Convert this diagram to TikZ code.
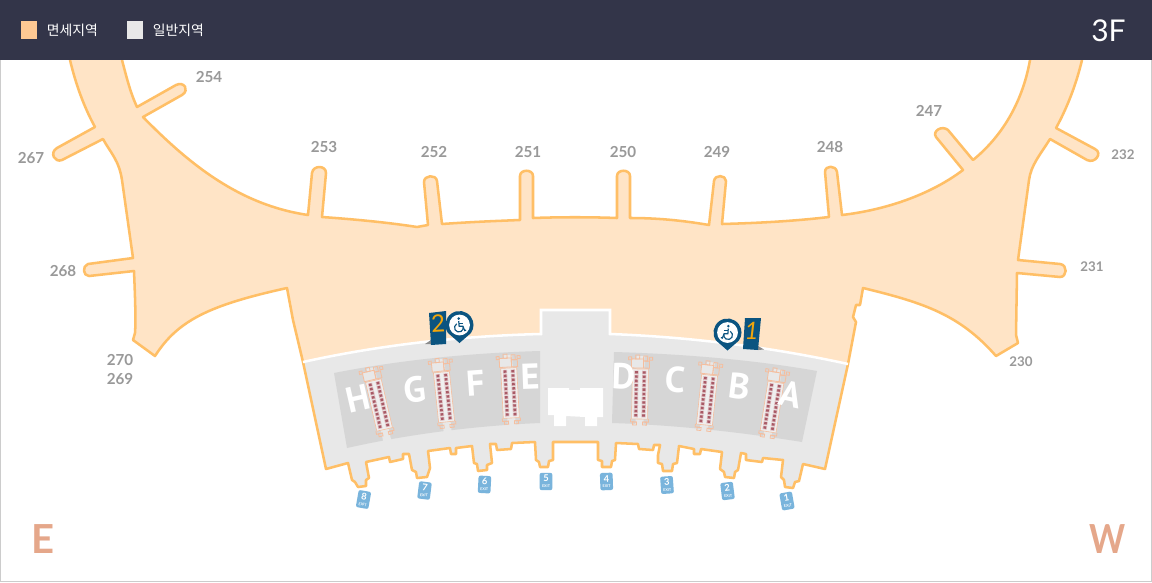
\documentclass[tikz,border=0pt]{standalone}
\usepackage{fontspec}
\setmainfont{Lato}
\newfontfamily\krfont{Noto Sans CJK KR}
\newfontfamily\gatefont{PT Sans}
\definecolor{headbg}{HTML}{333549}
\definecolor{dutyfill}{HTML}{FFE4C6}
\definecolor{dutykey}{HTML}{FFC993}
\definecolor{edge}{HTML}{FFBF66}
\definecolor{landside}{HTML}{E8E8E8}
\definecolor{hall}{HTML}{D6D6D6}
\definecolor{gatelabel}{HTML}{999999}
\definecolor{pinblue}{HTML}{0B5480}
\definecolor{flagnum}{HTML}{F2A60C}
\definecolor{exitblue}{HTML}{79B4DC}
\definecolor{compass}{HTML}{E5A78A}
\definecolor{seat}{HTML}{A85A66}
\definecolor{seatpale}{HTML}{DDB9BC}
\definecolor{pierline}{HTML}{F5BE9E}
\tikzset{
  gatenum/.style={font=\bfseries\fontsize{11.4}{13}\selectfont,text=gatelabel,inner sep=0pt},
  keytext/.style={font=\krfont\fontsize{10.4}{12}\selectfont,text=white,inner sep=0pt,anchor=west},
  hallletter/.style={font=\gatefont\bfseries\fontsize{27}{30}\selectfont,text=white,inner sep=0pt},
  compassletter/.style={font=\bfseries\fontsize{30}{32}\selectfont,text=compass,inner sep=0pt},
  planedge/.style={draw=edge,line width=1.9pt,line join=round},
  exittag/.style={fill=exitblue,rounded corners=1.5pt,minimum width=9.5pt,minimum height=13pt,inner sep=0pt,
    text=white,align=center,font=\bfseries\fontsize{7}{6}\selectfont},
}
\newcommand{\exitcap}{\\[-1.6pt]{\fontsize{2.8}{3}\selectfont EXIT}}
% pier(cx,cy,angle)
\newcommand{\termpier}[3]{%
\begin{scope}[shift={(#1,#2)},rotate=#3]
  \fill[landside] (-4,-38) rectangle (4,37);
  \fill[landside!70!white] (-8,-25) rectangle (8,25);
  \draw[pierline,line width=.45pt] (-8,-25) rectangle (8,25);
  \draw[pierline,line width=.6pt,fill=landside] (-9,-35) rectangle (3,-26);
  \draw[pierline,line width=.6pt] (3,-33) rectangle (9,-26);
  \draw[pierline,line width=.6pt] (-5,-39) rectangle (-1,-35);
  \draw[pierline,line width=.6pt] (3,-38) rectangle (7,-33);
  \draw[pierline,line width=.6pt] (9,-37) rectangle (12,-34);
  \draw[pierline,line width=.6pt] (-12,-37) rectangle (-9,-34);
  \draw[pierline,line width=.6pt] (-9,25) -- (-9,28) -- (-3,28) (3,28) -- (9,28) -- (9,25);
  \draw[pierline,line width=.6pt] (-7,28) rectangle (-3,31);
  \draw[pierline,line width=.6pt] (3,28) rectangle (7,31);
  \foreach \r in {-21.5,-17.2,...,22}{
    \fill[seatpale] (-6,\r-1.8) rectangle (-1.8,\r+1.8);
    \fill[seatpale] (1.8,\r-1.8) rectangle (6,\r+1.8);
    \fill[seat] (-5.2,\r-1.3) rectangle (-2.6,\r+1);
    \fill[seat] (2.6,\r-1.3) rectangle (5.2,\r+1);
  }
\end{scope}}
% pin(cx,cy,xscale)
\newcommand{\accesspin}[3]{%
\begin{scope}[shift={(#1,#2)}]
  \fill[pinblue] (-11.47,8.03) arc[start angle=145,end angle=395,radius=14] -- (0,18) -- cycle;
  \fill[white] (0,0) circle[radius=10.4];
  \begin{scope}[xscale=#3,draw=pinblue,line width=.85pt]
    \fill[pinblue] (-.8,-6.4) circle[radius=1.4];
    \draw (-.8,-4) -- (-.4,1.2) -- (3.4,1.2) -- (5.2,5.6) -- (6.6,5);
    \draw (-.6,-1.6) -- (3.4,-1.6);
    \draw (-2.8,-1.2) arc[start angle=240,end angle=-15,radius=4.4];
  \end{scope}
\end{scope}}
\begin{document}
\begin{tikzpicture}[x=0.75pt,y=-0.75pt]
\useasboundingbox (0,0) rectangle (1152,582);
\fill[white] (0,0) rectangle (1152,582);
\draw[black!20,line width=.8pt] (0.5,60) -- (0.5,581.5) -- (1151.5,581.5) -- (1151.5,60);

% landside
\fill[landside] (303,362) .. controls (380,345) and (460,336) .. (541,334) -- (541,310) -- (610,310) -- (610,334)
  .. controls (690,337) and (770,347) .. (848,364) -- (825,469) -- cycle;
\path[fill=landside,planedge]
  (303,362) -- (326,469) -- (348,463) -- (352,480) -- (355,482) -- (358,487) -- (366,486) -- (366,480) -- (369,478) -- (366,462)
  -- (389,457) -- (390,462) -- (403,459) -- (403,454) -- (409,454) -- (412,470) -- (416,472) -- (417,478) -- (427,477) -- (430,468) -- (428,451)
  -- (450,448) -- (451,454) -- (456,454) -- (456,448) -- (472,446) -- (474,463) -- (477,464) -- (478,471) -- (487,470) -- (487,465) -- (492,463) -- (490,444)
  -- (496,444) -- (497,450) -- (511,449) -- (512,443) -- (535,442) -- (536,460) -- (539,462) -- (540,467) -- (548,467) -- (549,461) -- (553,460) -- (553,442)
  -- (598,442) -- (598,460) -- (602,461) -- (602,467) -- (611,467) -- (612,461) -- (615,460) -- (616,443)
  -- (638,444) -- (639,449) -- (653,450) -- (654,445) -- (660,445) -- (658,455) -- (658,463) -- (662,464) -- (663,471) -- (672,471) -- (673,464) -- (677,463) -- (679,446)
  -- (694,449) -- (694,454) -- (700,454) -- (701,449) -- (722,452) -- (720,469) -- (724,472) -- (725,477) -- (734,478) -- (735,472) -- (738,470) -- (741,453)
  -- (746,454) -- (746,460) -- (762,462) -- (763,458) -- (783,460) -- (781,477) -- (784,480) -- (785,487) -- (793,488) -- (795,482) -- (799,481) -- (803,464)
  -- (825,469) -- (848,364);

% airside
\fill[dutyfill] (70,60) .. controls (76,85) and (84,107) .. (95,127) -- (57,148) .. controls (49,153) and (55,163) .. (62,160) -- (103,139)
  .. controls (110,152) and (119,160) .. (122,180) -- (133,258) -- (88,264) .. controls (82,266) and (83,276) .. (89,276) -- (134,271)
  .. controls (135,295) and (136,320) .. (135,333) -- (133,340) -- (155,356)
  .. controls (178,320) and (210,305) .. (287,288) -- (293,320) -- (303,362)
  .. controls (380,345) and (460,336) .. (541,334) -- (541,310) -- (610,310) -- (610,334)
  .. controls (690,337) and (770,347) .. (848,364) -- (856,322) -- (853,317) -- (856,305) -- (860,305) -- (863,288)
  .. controls (925,303) and (960,315) .. (996,356) -- (1018,343) -- (1016,335) -- (1017,273)
  -- (1060,277) .. controls (1067,277) and (1068,265) .. (1060,264) -- (1018,260) -- (1029,180)
  .. controls (1031,165) and (1040,155) .. (1050,139) -- (1087,160) .. controls (1095,164) and (1103,153) .. (1095,149) -- (1056,128)
  .. controls (1067,108) and (1076,85) .. (1082,60) -- (1030,60)
  .. controls (1022,105) and (1000,138) .. (973,160) -- (948,130) .. controls (942,125) and (932,131) .. (936,137) -- (963,170)
  .. controls (930,195) and (885,210) .. (842,215) -- (837,172) .. controls (836,165) and (825,165) .. (825,172) -- (829,217)
  .. controls (795,221) and (760,223) .. (722,224) -- (726,181) .. controls (726,175) and (715,174) .. (714,181) -- (709,225)
  .. controls (680,220) and (655,218) .. (630,218) -- (630,176) .. controls (630,169) and (617,169) .. (617,176) -- (617,218)
  .. controls (590,217) and (560,217) .. (533,218) -- (533,176) .. controls (533,169) and (520,169) .. (520,176) -- (520,220)
  .. controls (495,221) and (470,222) .. (442,224) -- (437,181) .. controls (436,174) and (424,175) .. (424,182) -- (428,225)
  -- (417,227) .. controls (385,222) and (350,219) .. (322,217) -- (326,173) .. controls (326,165) and (313,165) .. (312,173) -- (308,215)
  .. controls (240,205) and (190,165) .. (143,117) -- (182,95) .. controls (190,90) and (184,81) .. (176,85) -- (137,107)
  .. controls (130,92) and (126,75) .. (122,60) -- cycle;

\draw[planedge]
  (70,60) .. controls (76,85) and (84,107) .. (95,127) -- (57,148) .. controls (49,153) and (55,163) .. (62,160) -- (103,139)
  .. controls (110,152) and (119,160) .. (122,180) -- (133,258) -- (88,264) .. controls (82,266) and (83,276) .. (89,276) -- (134,271)
  .. controls (135,295) and (136,320) .. (135,333) -- (133,340) -- (155,356)
  .. controls (178,320) and (210,305) .. (287,288) -- (293,320) -- (303,362);
\draw[planedge] (848,364) -- (856,322) -- (853,317) -- (856,305) -- (860,305) -- (863,288)
  .. controls (925,303) and (960,315) .. (996,356) -- (1018,343) -- (1016,335) -- (1017,273)
  -- (1060,277) .. controls (1067,277) and (1068,265) .. (1060,264) -- (1018,260) -- (1029,180)
  .. controls (1031,165) and (1040,155) .. (1050,139) -- (1087,160) .. controls (1095,164) and (1103,153) .. (1095,149) -- (1056,128)
  .. controls (1067,108) and (1076,85) .. (1082,60);
\draw[planedge] (1030,60)
  .. controls (1022,105) and (1000,138) .. (973,160) -- (948,130) .. controls (942,125) and (932,131) .. (936,137) -- (963,170)
  .. controls (930,195) and (885,210) .. (842,215) -- (837,172) .. controls (836,165) and (825,165) .. (825,172) -- (829,217)
  .. controls (795,221) and (760,223) .. (722,224) -- (726,181) .. controls (726,175) and (715,174) .. (714,181) -- (709,225)
  .. controls (680,220) and (655,218) .. (630,218) -- (630,176) .. controls (630,169) and (617,169) .. (617,176) -- (617,218)
  .. controls (590,217) and (560,217) .. (533,218) -- (533,176) .. controls (533,169) and (520,169) .. (520,176) -- (520,220)
  .. controls (495,221) and (470,222) .. (442,224) -- (437,181) .. controls (436,174) and (424,175) .. (424,182) -- (428,225)
  -- (417,227) .. controls (385,222) and (350,219) .. (322,217) -- (326,173) .. controls (326,165) and (313,165) .. (312,173) -- (308,215)
  .. controls (240,205) and (190,165) .. (143,117) -- (182,95) .. controls (190,90) and (184,81) .. (176,85) -- (137,107)
  .. controls (130,92) and (126,75) .. (122,60);
\draw[white,line width=1.9pt,line join=miter] (303,362) .. controls (380,345) and (460,336) .. (541,334) -- (541,310) -- (610,310) -- (610,334)
  .. controls (690,337) and (770,347) .. (848,364);

% halls
\fill[hall] (334,373) .. controls (400,360) and (470,353) .. (540,351) -- (540,423) .. controls (470,426) and (405,435) .. (347,448) -- cycle;
\fill[hall] (614,352) .. controls (685,354) and (755,360) .. (817,371) -- (802,442) .. controls (740,432) and (675,425) .. (612,423) -- cycle;
\fill[white] (548,388) -- (569,388) -- (569,390) -- (580,390) -- (580,388) -- (603,388) -- (603,417) -- (597,417) -- (597,426) -- (585,426) -- (585,417) -- (566,416) -- (566,426) -- (554,426) -- (554,415) -- (548,415) -- cycle;

\termpier{379}{405}{13}
\termpier{444}{397}{6}
\termpier{510}{393}{3}
\termpier{640}{394}{-1}
\termpier{707}{400}{-6}
\termpier{772}{407}{-9}

\node[hallletter,rotate=13] (hH) at (358.5,399) {H};
\node[hallletter,rotate=7] (hG) at (414.5,390) {G};
\node[hallletter,rotate=4] (hF) at (475.5,383) {F};
\node[hallletter,rotate=2] (hE) at (530,377) {E};
\node[hallletter,rotate=-2] (hD) at (623.5,376) {D};
\node[hallletter,rotate=-4] (hC) at (675.5,380) {C};
\node[hallletter,rotate=-7] (hB) at (739.5,386) {B};
\node[hallletter,rotate=-12] (hA) at (791,394) {A};

% markers
\fill[black!45] (431,344) -- (425,344) -- (431,340) -- cycle;
\fill[pinblue] (429,313) -- (446,311) -- (446,344) -- (431,345) -- cycle;
\node[font=\fontsize{18}{20}\selectfont,text=flagnum,inner sep=0pt,rotate=3] (flagtwo) at (438,323) {2};
\accesspin{459.5}{325}{1}
\fill[black!45] (758,346) -- (764,349.5) -- (758,350) -- cycle;
\fill[pinblue] (745,318) -- (761,318) -- (758,350) -- (743,349) -- cycle;
\node[font=\itshape\fontsize{18}{20}\selectfont,text=flagnum,inner sep=0pt] (flagone) at (751.5,331) {1};
\accesspin{727.5}{332.5}{-1}

% exits
\node[exittag,rotate=-10] (x8) at (363.5,499.5) {8\exitcap};
\node[exittag,rotate=-7] (x7) at (424.5,490.5) {7\exitcap};
\node[exittag,rotate=-3] (x6) at (484.5,484.5) {6\exitcap};
\node[exittag] (x5) at (546,481.5) {5\exitcap};
\node[exittag,rotate=2] (x4) at (606.5,481.5) {4\exitcap};
\node[exittag,rotate=4] (x3) at (667,485) {3\exitcap};
\node[exittag,rotate=7] (x2) at (727.5,491) {2\exitcap};
\node[exittag,rotate=10] (x1) at (787,501) {1\exitcap};

% gate numbers
\node[gatenum] (g254) at (209,77.5) {254};
\node[gatenum] (g267) at (31,158) {267};
\node[gatenum] (g253) at (324,147.5) {253};
\node[gatenum] (g252) at (434,152) {252};
\node[gatenum] (g251) at (528,152) {251};
\node[gatenum] (g250) at (623,152) {250};
\node[gatenum] (g249) at (717,152) {249};
\node[gatenum] (g248) at (830,147) {248};
\node[gatenum] (g247) at (929,111) {247};
\node[gatenum,font=\bfseries\fontsize{10}{12}\selectfont] (g232) at (1123,155) {232};
\node[gatenum,font=\bfseries\fontsize{10}{12}\selectfont] (g231) at (1092,267) {231};
\node[gatenum] (g268) at (63,271) {268};
\node[gatenum] (g270) at (120,360) {270};
\node[gatenum] (g269) at (120,379) {269};
\node[gatenum,font=\bfseries\fontsize{10}{12}\selectfont] (g230) at (1021,362) {230};

\node[compassletter] (east) at (43,539) {E};
\node[compassletter,xscale=.86] (west) at (1107.5,539) {W};

% header
\fill[headbg] (0,0) rectangle (1152,60);
\fill[dutykey] (21,21) rectangle (37,39);
\fill[landside] (127,21) rectangle (143,39);
\node[keytext] (k1) at (46.5,30) {면세지역};
\node[keytext] (k2) at (152.5,30) {일반지역};
\node[font=\fontsize{22.5}{25}\selectfont,text=white,inner sep=0pt] (floor) at (1108.5,31) {3F};
\end{tikzpicture}
\end{document}
